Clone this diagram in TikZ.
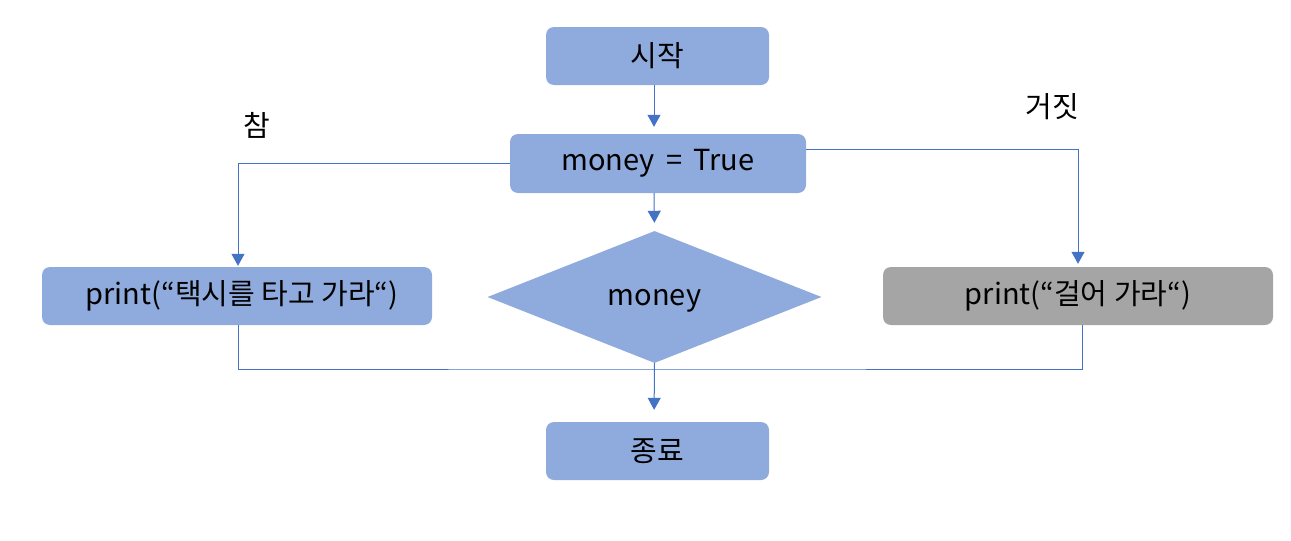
\documentclass[tikz,border=0pt]{standalone}
\usepackage{fontspec}
\setmainfont{Noto Sans CJK KR}
\usetikzlibrary{arrows.meta,shapes.geometric}
\definecolor{boxblue}{HTML}{8FAADC}
\definecolor{boxgray}{HTML}{A5A5A5}
\definecolor{lineblue}{HTML}{4472C4}
\tikzset{
  box/.style={fill=boxblue, rounded corners=8pt, inner sep=0pt, font=\fontsize{29}{34}\selectfont},
  graybox/.style={box, fill=boxgray},
  decision/.style={diamond, fill=boxblue, inner sep=0pt, minimum width=334pt, minimum height=132pt, aspect=2.53, font=\fontsize{29}{34}\selectfont},
  conn/.style={draw=lineblue, line width=1pt},
  arr/.style={conn, -{Triangle[width=13pt,length=12pt]}},
  lbl/.style={font=\fontsize{29}{34}\selectfont}
}
\begin{document}
\begin{tikzpicture}[x=1pt,y=-1pt]
\useasboundingbox (0,0) rectangle (1291,541);
\node[box, minimum width=223pt, minimum height=58pt] (start) at (657.5,56) {시작};
\node[box, minimum width=296pt, minimum height=59pt] (mt) at (658,163.5) {money \,=\, True};
\node[decision] (dia) at (654.5,297) {\raisebox{-8pt}[0pt][0pt]{money}};
\node[box, minimum width=390pt, minimum height=58pt] (left) at (237,296) {\hspace{10pt}print(“택시를 타고 가라“)};
\node[graybox, minimum width=390pt, minimum height=58pt] (right) at (1078,296) {print(“걸어 가라“)};
\node[box, minimum width=223pt, minimum height=58pt] (end) at (657.5,451) {종료};
\node[lbl] (true) at (257,125) {참};
\node[lbl] (false) at (1052,107) {거짓};
\coordinate (j) at (654,369);
\draw[arr, shorten >=7pt] (start.south -| j) -- (mt.north -| j);
\draw[arr, shorten >=8pt] (mt.south -| j) -- (dia.north);
\draw[arr, shorten >=1pt] (mt.west) -| ([xshift=1pt]left.north);
\draw[arr, shorten >=3pt] ([yshift=14pt]mt.east) -| (right.north);
\draw[conn] ([xshift=1pt]left.south) |- (j) -| ([xshift=4pt]right.south);
\draw[arr, shorten >=12pt] (dia.south) -- (end.north -| j);
\end{tikzpicture}
\end{document}
